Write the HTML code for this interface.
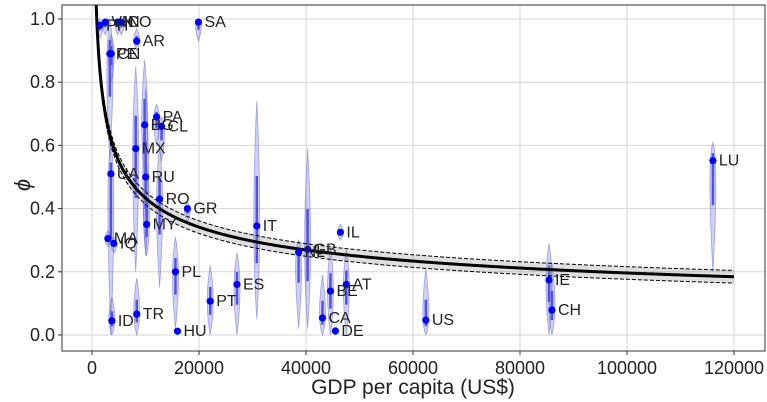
<!DOCTYPE html>
<html><head><meta charset="utf-8"><style>
html,body{margin:0;padding:0;background:#fff;}
svg{display:block;font-family:"Liberation Sans","DejaVu Sans",sans-serif;}
</style></head><body>
<svg id="chart" width="767" height="402" xmlns="http://www.w3.org/2000/svg"></svg>
<script>
const countries=["PH","VN","IN","CO","SA","AR","PE","CN","PA","BG","CL","MX","UA","RU","RO","GR","MY","MA","IQ","PL","ES","PT","TR","ID","HU","IT","NL","GB","IL","BE","AT","CA","DE","US","IE","CH","LU"];
const gdp=[1500,2500,4800,5500,19900,8360,3340,3600,12070,9840,13000,8170,3530,10030,12630,17830,10210,2970,4090,15600,27100,22100,8360,3710,15970,30800,38620,40300,46430,44570,47540,43080,45500,62400,85420,85970,116060];
const phi=[0.98,0.99,0.99,0.99,0.99,0.93,0.89,0.89,0.69,0.665,0.66,0.59,0.51,0.50,0.43,0.40,0.35,0.305,0.29,0.20,0.16,0.107,0.066,0.045,0.012,0.345,0.262,0.271,0.325,0.139,0.16,0.054,0.013,0.047,0.174,0.079,0.552];
const vLo=[0.94,0.95,0.95,0.95,0.93,0.9,0.55,0.8,0.6,0.5,0.55,0.2,0.0,0.25,0.15,0.36,0.25,0.28,0.26,0.02,0.0,0.0,0.0,0.0,0.01,0.05,0.02,0.02,0.3,0.0,0.0,0.0,0.0,0.0,0.0,0.0,0.2];
const vHi=[1.0,1.0,1.0,1.0,1.0,0.97,1.0,0.95,0.73,0.87,0.69,0.85,0.6,0.78,0.6,0.42,0.55,0.33,0.31,0.31,0.26,0.22,0.18,0.12,0.02,0.74,0.3,0.59,0.35,0.28,0.27,0.19,0.02,0.21,0.29,0.23,0.61];
const xTicks=[0,20000,40000,60000,80000,100000,120000];
const yTicks=[0.0,0.2,0.4,0.6,0.8,1.0];
const fitA=10.3, fitB=0.344, bandW=0.02;

const NS="http://www.w3.org/2000/svg";
const svg=document.getElementById('chart');
const L=62,R=765,T=5,B=351;
const X=v=>92+v*(199-92)/20000;
const Y=v=>335-v*316;
function mk(tag,attrs,parent){const e=document.createElementNS(NS,tag);for(const k in attrs)e.setAttribute(k,attrs[k]);(parent||svg).appendChild(e);return e;}
const clip=mk('clipPath',{id:'pc'});mk('rect',{x:L,y:T,width:R-L,height:B-T},clip);
const grid=mk('g',{});
xTicks.forEach(t=>{mk('line',{x1:X(t),x2:X(t),y1:T,y2:B,stroke:'#d6d6d6','stroke-width':1},grid);
 mk('line',{x1:X(t),x2:X(t),y1:B,y2:B+4,stroke:'#333'});
 const tx=mk('text',{x:X(t),y:B+23,'text-anchor':'middle','font-size':18,fill:'#222'});tx.textContent=t;
 });
yTicks.forEach(t=>{mk('line',{x1:L,x2:R,y1:Y(t),y2:Y(t),stroke:'#d6d6d6','stroke-width':1},grid);
 mk('line',{x1:L-4,x2:L,y1:Y(t),y2:Y(t),stroke:'#333'});
 const tx=mk('text',{x:L-7,y:Y(t)+6,'text-anchor':'end','font-size':18,fill:'#222'});tx.textContent=t.toFixed(1);
 });
const pg=mk('g',{'clip-path':'url(#pc)'});
countries.forEach((c,i)=>{const cx=X(gdp[i]),y1=Y(vHi[i]),y2=Y(vLo[i]),ym=Y(phi[i]);const w=6;
 const p=mk('path',{d:`M${cx},${y1} Q${cx+w},${ym} ${cx},${y2} Q${cx-w},${ym} ${cx},${y1}Z`,fill:'rgba(100,100,230,0.3)',stroke:'rgba(90,90,200,0.5)','stroke-width':0.8},pg);
 
 const q1=Math.max(vLo[i],phi[i]-(phi[i]-vLo[i])*0.4),q3=Math.min(vHi[i],phi[i]+(vHi[i]-phi[i])*0.4);
 mk('line',{x1:cx,x2:cx,y1:Y(q3),y2:Y(q1),stroke:'#5050ee','stroke-width':2.5},pg);});
let up=[],lo=[],mid=[];
for(let g=500;g<=120000;g+=250){const v=fitA*Math.pow(g,-fitB);up.push([X(g),Y(v+bandW)]);lo.push([X(g),Y(v-bandW)]);mid.push([X(g),Y(v)]);}
const band=mk('path',{d:'M'+up.map(p=>p.join(',')).join('L')+'L'+lo.slice().reverse().map(p=>p.join(',')).join('L')+'Z',fill:'rgba(150,150,150,0.3)'},pg);

[up,lo].forEach(a=>mk('path',{d:'M'+a.map(p=>p.join(',')).join('L'),fill:'none',stroke:'#000','stroke-width':1,'stroke-dasharray':'4,2'},pg));
const fl=mk('path',{d:'M'+mid.map(p=>p.join(',')).join('L'),fill:'none',stroke:'#000','stroke-width':3},pg);

countries.forEach((c,i)=>{const cx=X(gdp[i]),cy=Y(phi[i]);
 const d=mk('circle',{cx:cx,cy:cy,r:3.6,fill:'#0000ff'},pg);
 
 const t=mk('text',{x:cx+6,y:cy+5,'font-size':16,fill:'#222'});t.textContent=c;
 });
const fr=mk('rect',{x:L,y:T,width:R-L,height:B-T,fill:'none',stroke:'#333','stroke-width':1});

const xt=mk('text',{x:413,y:394,'text-anchor':'middle','font-size':21,fill:'#222'});xt.textContent='GDP per capita (US$)';

const yt=mk('text',{x:30,y:185,'text-anchor':'middle','font-size':22,'font-style':'italic',fill:'#222',transform:'rotate(-90 30 185)'});yt.textContent='ϕ';

</script>
</body></html>
